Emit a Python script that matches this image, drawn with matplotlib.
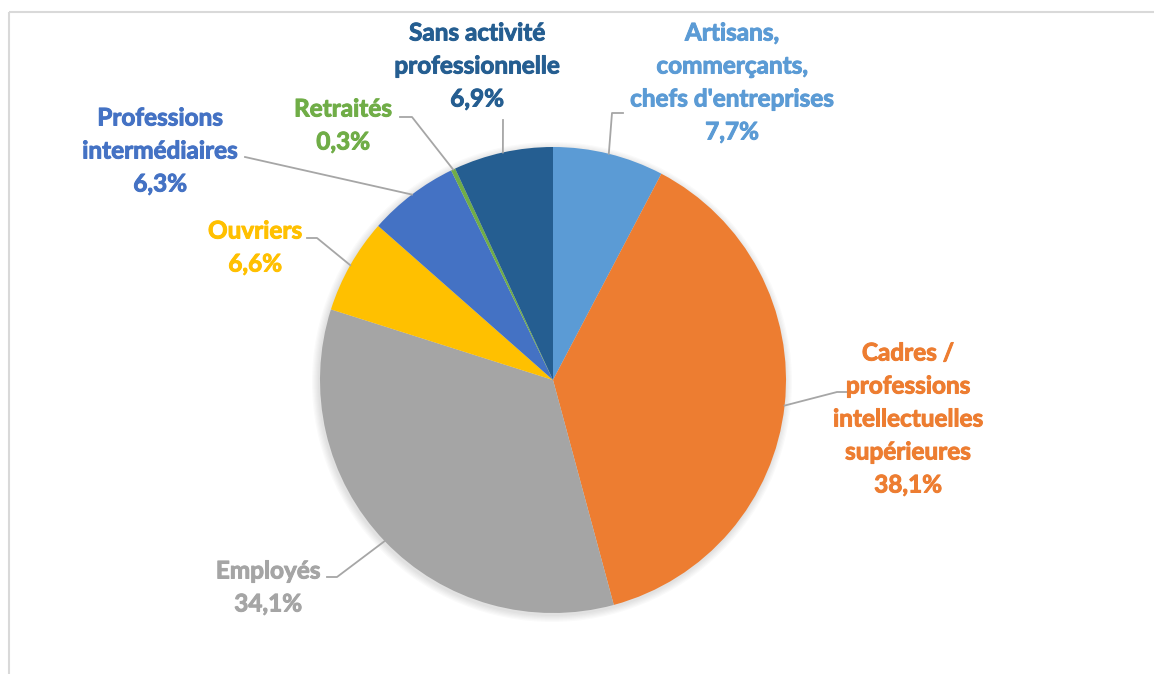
import numpy as np
import matplotlib.pyplot as plt
import matplotlib.patheffects as pe
from matplotlib.patches import Rectangle

# Data (clockwise from 12 o'clock)
categories = [
    "Artisans,\ncommerçants,\nchefs d'entreprises",
    "Cadres /\nprofessions\nintellectuelles\nsupérieures",
    "Employés",
    "Ouvriers",
    "Professions\nintermédiaires",
    "Retraités",
    "Sans activité\nprofessionnelle",
]
shares = [7.7, 38.1, 34.1, 6.6, 6.3, 0.3, 6.9]
colors = ["#5B9BD5", "#ED7D31", "#A5A5A5", "#FFC000", "#4472C4", "#70AD47", "#255E91"]

# layout (pixel coordinates, y downward)
W, H = 1154, 674
cx, cy, r = 553, 380, 233
label_pos = [(732, 33), (908, 353), (268, 571), (255, 231), (160, 118), (343, 109), (477, 33)]
# leader line elbow points: (text-side x, y, elbow x)
elbows = [(623, 113, 612), (850, 392, 837), (327, 577, 337), (307, 238, 317),
          (245, 157, None), (400, 117, 412), (503, 120, None)]
line_step = 33

plt.rcParams["font.family"] = ["Lato", "DejaVu Sans"]

fig = plt.figure(figsize=(W / 100, H / 100), dpi=100)
ax = fig.add_axes([0, 0, 1, 1])

# chart border
ax.add_patch(Rectangle((9, 12), W + 20, H + 20, fill=False, edgecolor="#D9D9D9", lw=1.5))

# soft shadow
for k in range(6):
    ax.add_patch(plt.Circle((cx - 1, cy + 2), r + 1 + k * 1.2, color="#000000",
                            alpha=0.018, lw=0, zorder=1))

wedges, _ = ax.pie(shares, colors=colors, startangle=-90, counterclock=True,
                   center=(cx, cy), radius=r, frame=True,
                   wedgeprops=dict(linewidth=0, zorder=2))
ax.set_xlim(0, W)
ax.set_ylim(H, 0)
ax.set_aspect("equal")
ax.axis("off")

cum = np.cumsum([0] + shares)
for i, name in enumerate(categories):
    mid = -90 + 360 * (cum[i] + shares[i] / 2) / 100
    ex = cx + r * np.cos(np.radians(mid))
    ey = cy + r * np.sin(np.radians(mid))
    tx, ty, bx = elbows[i]
    if bx is None:
        xs, ys = [tx, ex], [ty, ey]
    else:
        xs, ys = [tx, bx, ex], [ty, ty, ey]
    ax.plot(xs, ys, color="#A6A6A6", lw=1.3, zorder=3)

    lines = name.split("\n") + [f"{shares[i]:.1f}%".replace(".", ",")]
    lx, ly = label_pos[i]
    for j, t in enumerate(lines):
        ax.text(lx, ly + j * line_step, t, ha="center", va="center",
                fontsize=17.5, fontweight="bold", color=colors[i],
                path_effects=[pe.withStroke(linewidth=0.7, foreground=colors[i])])

fig.savefig("out.png", dpi=100)
